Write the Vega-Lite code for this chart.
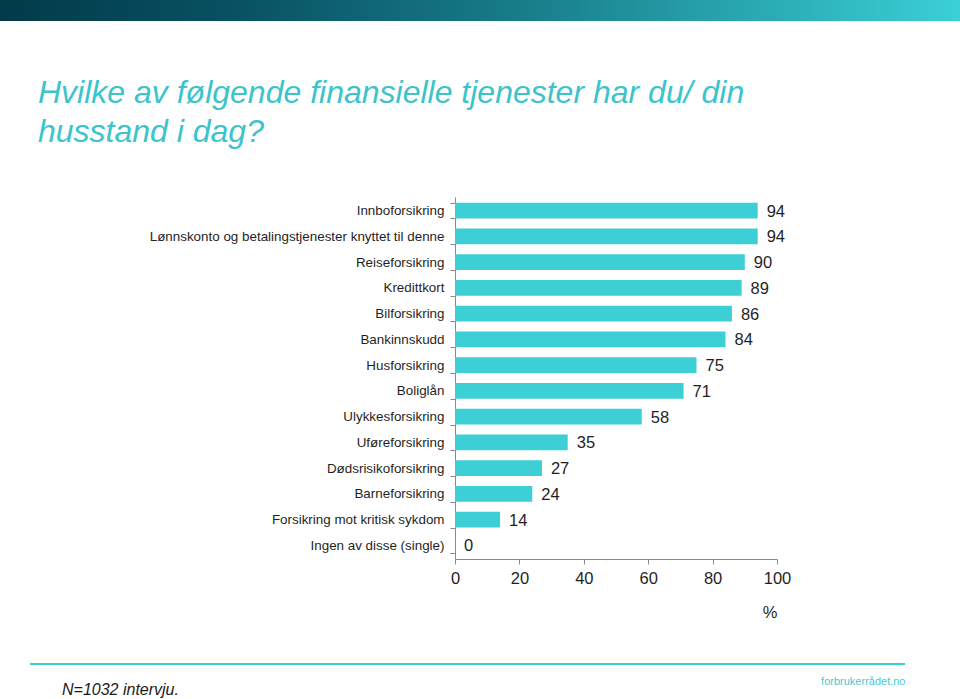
{
  "$schema": "https://vega.github.io/schema/vega-lite/v6.json",
  "padding": 0,
  "spacing": 0,
  "bounds": "flush",
  "config": {
    "view": {"stroke": null},
    "font": "Liberation Sans"
  },
  "vconcat": [
    {
      "width": 960,
      "height": 21,
      "data": {"values": [{"band": "banner"}]},
      "title": {
        "text": ["Hvilke av følgende finansielle tjenester har du/ din", "husstand i dag?"],
        "orient": "bottom",
        "anchor": "start",
        "frame": "group",
        "dx": 38,
        "offset": 57,
        "fontSize": 32,
        "lineHeight": 39,
        "font": "Liberation Sans",
        "fontStyle": "italic",
        "fontWeight": "normal",
        "color": "#3cc4ca"
      },
      "mark": {
        "type": "rect",
        "color": {
          "gradient": "linear",
          "x1": 0, "x2": 1, "y1": 0, "y2": 0,
          "stops": [
            {"offset": 0, "color": "#023a49"},
            {"offset": 0.25, "color": "#085263"},
            {"offset": 0.55, "color": "#187e8a"},
            {"offset": 1, "color": "#3ad0d6"}
          ]
        }
      },
      "encoding": {}
    },
    {
      "width": 960,
      "height": 642,
      "data": {
        "values": [
          {"label": "Innboforsikring", "value": 94},
          {"label": "Lønnskonto og betalingstjenester knyttet til denne", "value": 94},
          {"label": "Reiseforsikring", "value": 90},
          {"label": "Kredittkort", "value": 89},
          {"label": "Bilforsikring", "value": 86},
          {"label": "Bankinnskudd", "value": 84},
          {"label": "Husforsikring", "value": 75},
          {"label": "Boliglån", "value": 71},
          {"label": "Ulykkesforsikring", "value": 58},
          {"label": "Uføreforsikring", "value": 35},
          {"label": "Dødsrisikoforsikring", "value": 27},
          {"label": "Barneforsikring", "value": 24},
          {"label": "Forsikring mot kritisk sykdom", "value": 14},
          {"label": "Ingen av disse (single)", "value": 0}
        ]
      },
      "encoding": {
        "y": {
          "field": "label",
          "type": "nominal",
          "sort": null,
          "scale": {"range": [176, 538], "paddingInner": 0.39, "paddingOuter": 0.22},
          "axis": {
            "title": null,
            "offset": -455,
            "tickBand": "extent",
            "tickSize": 5,
            "tickColor": "#8a8a8a",
            "domainColor": "#8a8a8a",
            "labelFontSize": 13.4,
            "labelColor": "#1f1f1f",
            "labelPadding": 6,
            "labelLimit": 400
          }
        },
        "x": {
          "field": "value",
          "type": "quantitative",
          "scale": {"domain": [0, 100], "range": [455, 777], "nice": false},
          "axis": {
            "title": "%",
            "offset": -104,
            "values": [0, 20, 40, 60, 80, 100],
            "grid": false,
            "tickSize": 5,
            "tickColor": "#8a8a8a",
            "domainColor": "#8a8a8a",
            "labelFontSize": 16.5,
            "labelColor": "#1f1f1f",
            "labelPadding": 6,
            "labelFlush": false,
            "titleFontSize": 16.5,
            "titleFontWeight": "normal",
            "titleColor": "#1f1f1f",
            "titleAnchor": "end",
            "titlePadding": 18
          }
        }
      },
      "layer": [
        {"mark": {"type": "bar", "color": "#3dcfd6"}},
        {
          "mark": {"type": "text", "align": "left", "baseline": "middle", "dx": 9, "dy": 1, "fontSize": 16.5, "color": "#1f1f1f"},
          "encoding": {"text": {"field": "value", "type": "quantitative"}}
        }
      ]
    },
    {
      "width": 960,
      "height": 2,
      "data": {"values": [{"start": 0, "end": 1}]},
      "title": {
        "text": "N=1032 intervju.",
        "orient": "bottom",
        "anchor": "start",
        "frame": "group",
        "dx": 62,
        "offset": -4,
        "fontSize": 16,
        "font": "Liberation Sans",
        "fontStyle": "italic",
        "fontWeight": "normal",
        "color": "#1a1a1a"
      },
      "mark": {"type": "rect", "color": "#3ccfd4"},
      "encoding": {
        "x": {
          "field": "start",
          "type": "quantitative",
          "scale": {"domain": [0, 1], "range": [30, 905]},
          "axis": {
            "title": "forbrukerrådet.no",
            "labels": false,
            "ticks": false,
            "domain": false,
            "grid": false,
            "titleAnchor": "end",
            "titleFontSize": 11,
            "titleFontWeight": "normal",
            "titleColor": "#4cc6cb",
            "titlePadding": 10
          }
        },
        "x2": {"field": "end"}
      }
    }
  ]
}
